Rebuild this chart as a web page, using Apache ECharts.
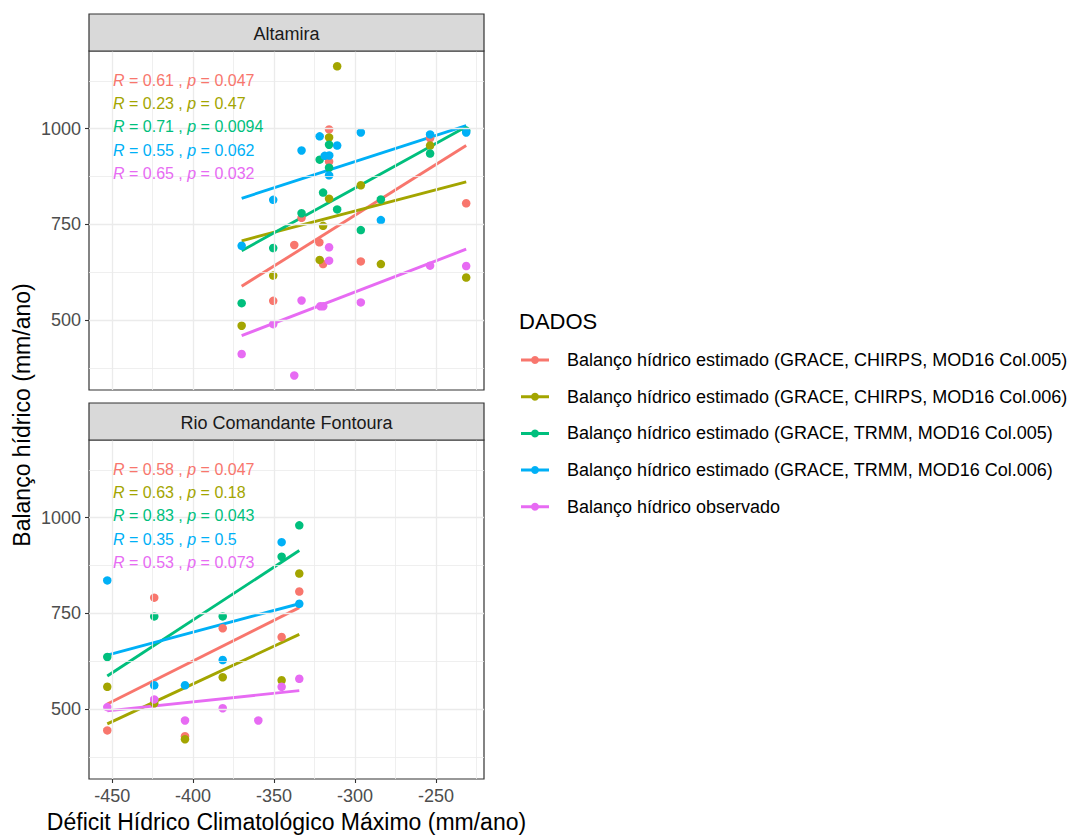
<!DOCTYPE html>
<html><head><meta charset="utf-8">
<script src="https://cdn.jsdelivr.net/npm/echarts@6/dist/echarts.min.js"></script>
<style>html,body{margin:0;padding:0;background:#fff}#c{width:1082px;height:835px}</style>
</head><body><div id="c"></div>
<script>
// ---------- data ----------
const seriesNames = [
  'Balanço hídrico estimado (GRACE, CHIRPS, MOD16 Col.005)',
  'Balanço hídrico estimado (GRACE, CHIRPS, MOD16 Col.006)',
  'Balanço hídrico estimado (GRACE, TRMM, MOD16 Col.005)',
  'Balanço hídrico estimado (GRACE, TRMM, MOD16 Col.006)',
  'Balanço hídrico observado'
];
const colors = ['#F8766D', '#A3A500', '#00BF7D', '#00B0F6', '#E76BF3'];
const panelNames = ['Altamira', 'Rio Comandante Fontoura'];

// Altamira points [x, y]
const altChirps005 = [[-350.5,550],[-337.5,696],[-333,767],[-322,703],[-319.7,646],[-316,998],[-316,914],[-296.4,653],[-253.6,975],[-231.3,805]];
const altChirps006 = [[-370,485],[-350.5,616],[-321.8,657],[-319.7,746],[-316,977],[-316,817],[-311,1163],[-296.4,852],[-284,646],[-253.6,956],[-231.3,611]];
const altTrmm005 = [[-370,544],[-350.5,688],[-333,779],[-321.8,919],[-319.7,833],[-316,958],[-316,898],[-311,789],[-296.4,735],[-284,815],[-253.6,935],[-231.3,995]];
const altTrmm006 = [[-370,694],[-350.5,814],[-333,943],[-321.8,980],[-318.7,929],[-315.9,930],[-316,878],[-311,956],[-296.4,990],[-284,761],[-253.6,985],[-231.3,990]];
const altObs = [[-370,411],[-350.5,489],[-337.5,355],[-333,551],[-321.4,536],[-319.6,536],[-316,690],[-316,655],[-296.4,546],[-253.6,642],[-231.3,641]];

// Rio Comandante Fontoura points [x, y]
const rioChirps005 = [[-453,444],[-424,791],[-405,429],[-381.7,711],[-345.3,688],[-334.4,807]];
const rioChirps006 = [[-453,558],[-424,515],[-405,421],[-381.7,583],[-345.3,575],[-334.4,854]];
const rioTrmm005 = [[-453,636],[-424,742],[-381.7,742],[-345.3,898],[-334.4,980]];
const rioTrmm006 = [[-453,836],[-424,562],[-405,562],[-381.7,628],[-345.3,936],[-334.4,775]];
const rioObs = [[-453,505],[-424,525],[-405,470],[-381.7,502],[-359.7,470],[-345.3,558],[-334.4,579]];

// fitted regression lines [[x0, y0], [x1, y1]]
const altFitChirps005 = [[-370,588],[-231.3,956]];
const altFitChirps006 = [[-370,707],[-231.3,861]];
const altFitTrmm005 = [[-370,681],[-231.3,1005]];
const altFitTrmm006 = [[-370,818],[-231.3,1008]];
const altFitObs = [[-370,459],[-231.3,685]];
const rioFitChirps005 = [[-453,513],[-334.4,765]];
const rioFitChirps006 = [[-453,461],[-334.4,695]];
const rioFitTrmm005 = [[-453,586],[-334.4,914]];
const rioFitTrmm006 = [[-453,641],[-334.4,775]];
const rioFitObs = [[-453,495],[-334.4,548]];

// correlation labels [R, p]
const altStats = [['0.61','0.047'],['0.23','0.47'],['0.71','0.0094'],['0.55','0.062'],['0.65','0.032']];
const rioStats = [['0.58','0.047'],['0.63','0.18'],['0.83','0.043'],['0.35','0.5'],['0.53','0.073']];

// axes
const xTicks = [-450, -400, -350, -300, -250];
const xMinor = [-425, -375, -325, -275, -225];
const yTicks = [500, 750, 1000];
const yMinor = [375, 625, 875, 1125];
const xRange = [-464.3, -220.3];
const yRange = [317, 1203];

// ---------- layout ----------
const FONT = "'Liberation Sans', Arial, sans-serif";
const plotLeft = 89, plotW = 395, plotH = 339;
const plotTops = [51, 440];
const stripH = 37;

const panelPoints = [
  [altChirps005, altChirps006, altTrmm005, altTrmm006, altObs],
  [rioChirps005, rioChirps006, rioTrmm005, rioTrmm006, rioObs]
];
const panelFits = [
  [altFitChirps005, altFitChirps006, altFitTrmm005, altFitTrmm006, altFitObs],
  [rioFitChirps005, rioFitChirps006, rioFitTrmm005, rioFitTrmm006, rioFitObs]
];
const panelStats = [altStats, rioStats];

const grids = [], xAxes = [], yAxes = [], series = [], graphics = [];

plotTops.forEach((top, p) => {
  grids.push({left: plotLeft, top: top, width: plotW, height: plotH, show: true,
    backgroundColor: '#fff', borderColor: '#333333', borderWidth: 1.2});
  const isBottom = p === plotTops.length - 1;
  xAxes.push({type: 'value', gridIndex: p, min: xRange[0], max: xRange[1],
    axisLine: {show: false}, splitLine: {show: false},
    axisTick: {show: isBottom, customValues: xTicks, length: 4, lineStyle: {color: '#333333', width: 1.1}},
    axisLabel: {show: isBottom, customValues: xTicks, fontSize: 18, color: '#4D4D4D', margin: 8,
      fontFamily: FONT, formatter: v => String(v)}});
  yAxes.push({type: 'value', gridIndex: p, min: yRange[0], max: yRange[1],
    axisLine: {show: false}, splitLine: {show: false},
    axisTick: {show: true, customValues: yTicks, length: 4, lineStyle: {color: '#333333', width: 1.1}},
    axisLabel: {show: true, customValues: yTicks, fontSize: 18, color: '#4D4D4D', margin: 8,
      fontFamily: FONT, formatter: v => String(v)}});

  // panel grid lines
  const gl = [];
  yMinor.forEach(v => gl.push({yAxis: v, lineStyle: {width: 0.8}}));
  xMinor.forEach(v => gl.push({xAxis: v, lineStyle: {width: 0.8}}));
  yTicks.forEach(v => gl.push({yAxis: v, lineStyle: {width: 1.3}}));
  xTicks.forEach(v => gl.push({xAxis: v, lineStyle: {width: 1.3}}));
  series.push({type: 'line', name: '_grid' + p, xAxisIndex: p, yAxisIndex: p, data: [], z: 1,
    silent: true,
    markLine: {silent: true, symbol: ['none', 'none'], animation: false, label: {show: false},
      lineStyle: {color: '#EBEBEB', type: 'solid'}, emphasis: {disabled: true}, data: gl}});

  seriesNames.forEach((name, k) => {
    series.push({type: 'line', name: name, xAxisIndex: p, yAxisIndex: p, data: panelFits[p][k],
      showSymbol: false, symbol: 'none', z: 3, silent: true,
      color: colors[k], lineStyle: {color: colors[k], width: 2.9}, animation: false});
    series.push({type: 'scatter', name: name, xAxisIndex: p, yAxisIndex: p, data: panelPoints[p][k],
      symbol: 'circle', symbolSize: 8.5, z: 4, silent: true,
      color: colors[k], itemStyle: {color: colors[k], opacity: 1}, animation: false});
  });

  // strip
  graphics.push({type: 'rect', silent: true, z: 10,
    shape: {x: plotLeft, y: top - stripH, width: plotW, height: stripH},
    style: {fill: '#D9D9D9', stroke: '#333333', lineWidth: 1.2}});
  graphics.push({type: 'text', silent: true, z: 11, x: plotLeft + plotW / 2, y: top - stripH / 2 + 1,
    style: {text: panelNames[p], fontSize: 18, fontFamily: FONT, fill: '#1A1A1A', align: 'center', verticalAlign: 'middle'}});

  // correlation labels
  panelStats[p].forEach((st, k) => {
    graphics.push({type: 'text', silent: true, z: 12, x: plotLeft + 24, y: top + 29 + k * 23.4,
      style: {text: '{i|R} = ' + st[0] + ' , {i|p} = ' + st[1], fontSize: 16, fontFamily: FONT,
        fill: colors[k], align: 'left', verticalAlign: 'middle',
        rich: {i: {fontStyle: 'italic', fontSize: 16, fontFamily: FONT, fill: colors[k]}}}});
  });
});

// axis titles and legend title
graphics.push({type: 'text', silent: true, x: 22, y: 415, rotation: Math.PI / 2,
  style: {text: 'Balanço hídrico (mm/ano)', fontSize: 23, fontFamily: FONT, fill: '#000', align: 'center', verticalAlign: 'middle'}});
graphics.push({type: 'text', silent: true, x: plotLeft + plotW / 2, y: 822,
  style: {text: 'Déficit Hídrico Climatológico Máximo (mm/ano)', fontSize: 23, fontFamily: FONT, fill: '#000', align: 'center', verticalAlign: 'middle'}});
graphics.push({type: 'text', silent: true, x: 519, y: 321,
  style: {text: 'DADOS', fontSize: 22, fontFamily: FONT, fill: '#000', align: 'left', verticalAlign: 'middle'}});

const ICON = 'path://M0,2.5 L28,2.5 L28,5.5 L0,5.5 Z M14,0 A4,4 0 1 1 13.99,0 Z';

const chart = echarts.init(document.getElementById('c'), null, {renderer: 'svg'});
chart.setOption({
  animation: false,
  color: colors,
  textStyle: {fontFamily: FONT},
  grid: grids, xAxis: xAxes, yAxis: yAxes,
  legend: {
    data: seriesNames.map(n => ({name: n, icon: ICON})),
    orient: 'vertical', left: 521, top: 351, padding: 0,
    itemWidth: 28, itemHeight: 8, itemGap: 18.7, selectedMode: false,
    textStyle: {fontSize: 18, color: '#000', fontFamily: FONT, lineHeight: 18, padding: [0, 0, 0, 13]}
  },
  series: series,
  graphic: graphics
});
</script></body></html>
